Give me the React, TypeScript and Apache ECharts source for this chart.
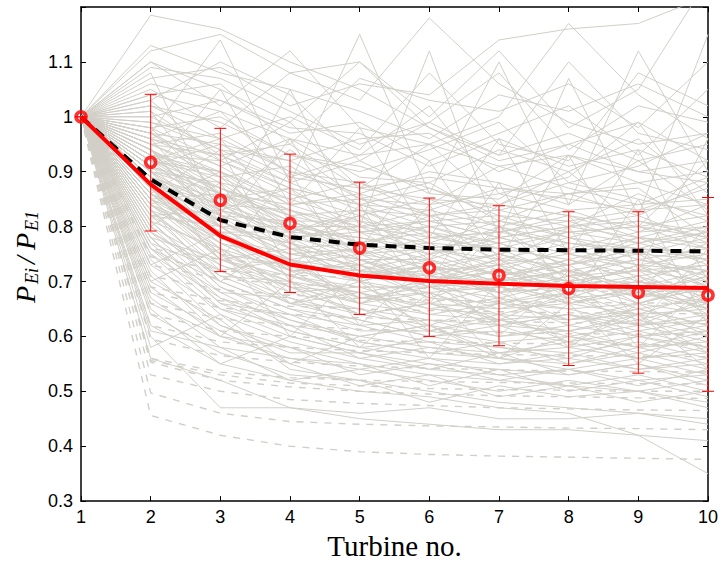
import React, { useEffect, useRef } from "react";
import * as echarts from "echarts";

const turbines = [1, 2, 3, 4, 5, 6, 7, 8, 9, 10];
const yTicks = [0.3, 0.4, 0.5, 0.6, 0.7, 0.8, 0.9, 1.0, 1.1];

// mean of all cases (red circles)
const meanValues = [1.0, 0.917, 0.848, 0.806, 0.761, 0.725, 0.711, 0.687, 0.68, 0.675];
// error bar limits
const errLow = [1.0, 0.792, 0.718, 0.68, 0.64, 0.6, 0.583, 0.547, 0.533, 0.5];
const errHigh = [1.0, 1.041, 0.979, 0.932, 0.881, 0.852, 0.838, 0.827, 0.827, 0.853];
// red solid fit
const redFit = [1.0, 0.877, 0.783, 0.731, 0.711, 0.701, 0.696, 0.692, 0.69, 0.688];
// black dashed fit
const blackFit = [1.0, 0.886, 0.812, 0.781, 0.767, 0.761, 0.758, 0.757, 0.756, 0.755];

// individual cases (solid grey)
const solidRuns: number[][] = [
  [1, 1.185, 1.16, 1.1, 1.05, 0.98, 0.92, 0.95, 0.9, 0.88],
  [1, 1.12, 1.15, 1.08, 1.03, 1.18, 1.06, 0.99, 0.95, 0.97],
  [1, 1.1, 1.02, 1.12, 0.98, 0.95, 1.0, 1.17, 1.04, 0.96],
  [1, 1.07, 1.09, 1.02, 1.06, 1.04, 1.14, 1.16, 1.17, 1.22],
  [1, 1.05, 0.98, 1.08, 1.1, 1.0, 1.12, 0.98, 1.05, 1.25],
  [1, 1.04, 1.06, 0.95, 1.07, 1.03, 1.01, 1.06, 0.98, 1.1],
  [1, 1.02, 0.96, 1.0, 0.94, 1.08, 0.95, 0.92, 1.08, 1.02],
  [1, 1.0, 1.03, 0.97, 0.99, 0.92, 0.97, 1.02, 0.93, 1.05],
  [1, 0.99, 0.94, 0.92, 0.96, 0.97, 0.9, 0.95, 0.99, 0.92],
  [1, 0.98, 1.0, 0.93, 0.9, 0.94, 0.99, 0.88, 0.91, 0.97],
  [1, 0.97, 0.91, 0.96, 0.89, 0.88, 0.94, 0.9, 0.96, 0.86],
  [1, 0.96, 0.93, 0.88, 0.92, 0.86, 0.85, 0.93, 0.88, 0.9],
  [1, 0.95, 0.97, 0.9, 0.86, 0.9, 0.88, 0.84, 0.92, 0.83],
  [1, 0.95, 0.89, 0.91, 0.84, 0.83, 0.87, 0.86, 0.82, 0.88],
  [1, 0.94, 0.88, 0.85, 0.88, 0.82, 0.83, 0.8, 0.86, 0.81],
  [1, 0.93, 0.92, 0.86, 0.82, 0.85, 0.8, 0.83, 0.79, 0.84],
  [1, 0.93, 0.86, 0.84, 0.8, 0.81, 0.82, 0.78, 0.81, 0.79],
  [1, 0.92, 0.9, 0.82, 0.83, 0.78, 0.79, 0.81, 0.77, 0.8],
  [1, 0.92, 0.85, 0.87, 0.79, 0.8, 0.76, 0.79, 0.8, 0.76],
  [1, 0.91, 0.87, 0.81, 0.81, 0.76, 0.78, 0.75, 0.78, 0.77],
  [1, 0.91, 0.84, 0.83, 0.77, 0.79, 0.74, 0.77, 0.75, 0.78],
  [1, 0.9, 0.83, 0.79, 0.78, 0.75, 0.77, 0.73, 0.76, 0.74],
  [1, 0.9, 0.88, 0.8, 0.76, 0.77, 0.72, 0.76, 0.73, 0.75],
  [1, 0.89, 0.82, 0.78, 0.75, 0.73, 0.75, 0.72, 0.74, 0.71],
  [1, 0.89, 0.8, 0.8, 0.74, 0.74, 0.71, 0.74, 0.71, 0.73],
  [1, 0.88, 0.81, 0.76, 0.77, 0.72, 0.73, 0.7, 0.72, 0.7],
  [1, 0.88, 0.79, 0.77, 0.72, 0.71, 0.7, 0.72, 0.69, 0.72],
  [1, 0.87, 0.78, 0.75, 0.73, 0.7, 0.72, 0.68, 0.7, 0.68],
  [1, 0.87, 0.8, 0.73, 0.71, 0.72, 0.68, 0.71, 0.67, 0.69],
  [1, 0.86, 0.77, 0.74, 0.7, 0.68, 0.69, 0.67, 0.68, 0.66],
  [1, 0.86, 0.76, 0.72, 0.72, 0.67, 0.66, 0.69, 0.65, 0.67],
  [1, 0.85, 0.78, 0.71, 0.69, 0.69, 0.67, 0.65, 0.66, 0.64],
  [1, 0.85, 0.75, 0.73, 0.67, 0.66, 0.65, 0.66, 0.64, 0.65],
  [1, 0.84, 0.74, 0.7, 0.68, 0.65, 0.64, 0.63, 0.65, 0.62],
  [1, 0.84, 0.76, 0.69, 0.66, 0.64, 0.63, 0.64, 0.62, 0.63],
  [1, 0.83, 0.73, 0.68, 0.65, 0.63, 0.62, 0.61, 0.63, 0.6],
  [1, 0.83, 0.72, 0.67, 0.64, 0.62, 0.6, 0.62, 0.6, 0.61],
  [1, 0.82, 0.71, 0.66, 0.63, 0.6, 0.61, 0.59, 0.61, 0.58],
  [1, 0.81, 0.7, 0.65, 0.61, 0.61, 0.59, 0.6, 0.58, 0.59],
  [1, 0.8, 0.69, 0.64, 0.62, 0.59, 0.58, 0.57, 0.59, 0.56],
  [1, 0.79, 0.68, 0.62, 0.6, 0.58, 0.57, 0.58, 0.56, 0.57],
  [1, 0.78, 0.67, 0.63, 0.59, 0.57, 0.56, 0.55, 0.57, 0.54],
  [1, 0.77, 0.66, 0.61, 0.58, 0.56, 0.55, 0.56, 0.54, 0.55],
  [1, 0.76, 0.65, 0.6, 0.57, 0.55, 0.54, 0.53, 0.55, 0.52],
  [1, 0.75, 0.64, 0.59, 0.56, 0.54, 0.53, 0.54, 0.52, 0.53],
  [1, 0.74, 0.62, 0.58, 0.55, 0.53, 0.52, 0.51, 0.53, 0.5],
  [1, 0.72, 0.6, 0.56, 0.54, 0.52, 0.5, 0.52, 0.5, 0.48],
  [1, 0.7, 0.63, 0.54, 0.52, 0.5, 0.48, 0.47, 0.46, 0.45],
  [1, 0.65, 0.55, 0.52, 0.5, 0.49, 0.47, 0.46, 0.42, 0.35],
  [1, 0.6, 0.47, 0.47, 0.45, 0.44, 0.43, 0.43, 0.42, 0.41],
  [1, 0.61, 0.58, 0.52, 0.54, 0.56, 0.53, 0.51, 0.5, 0.52],
  [1, 0.62, 0.55, 0.6, 0.57, 0.6, 0.58, 0.56, 0.6, 0.58],
  [1, 0.58, 0.64, 0.55, 0.6, 0.62, 0.56, 0.6, 0.57, 0.6],
  [1, 0.56, 0.52, 0.47, 0.46, 0.47, 0.45, 0.45, 0.46, 0.44],
  [1, 0.97, 1.14, 0.88, 1.15, 0.86, 1.1, 0.84, 1.12, 0.9],
  [1, 1.08, 0.82, 1.05, 0.8, 1.12, 0.78, 1.07, 0.82, 1.15],
  [1, 0.9, 1.05, 0.84, 0.98, 0.78, 0.96, 0.75, 0.94, 0.7],
  [1, 0.94, 0.8, 0.96, 0.76, 0.92, 0.74, 0.93, 0.72, 0.96],
  [1, 0.86, 0.94, 0.72, 0.86, 0.7, 0.88, 0.66, 0.85, 0.62],
  [1, 0.8, 0.88, 0.7, 0.84, 0.66, 0.8, 0.7, 0.76, 0.66],
  [1, 0.76, 0.7, 0.78, 0.62, 0.74, 0.6, 0.72, 0.58, 0.7],
  [1, 0.7, 0.76, 0.6, 0.72, 0.56, 0.7, 0.58, 0.66, 0.6],
  [1, 0.66, 0.6, 0.7, 0.58, 0.68, 0.56, 0.66, 0.55, 0.64],
  [1, 0.88, 0.74, 0.9, 0.7, 0.84, 0.66, 0.8, 0.62, 0.76],
  [1, 1.03, 0.92, 0.99, 0.87, 0.95, 0.84, 0.9, 0.8, 0.92],
  [1, 0.96, 1.01, 0.89, 0.93, 1.02, 0.86, 0.89, 0.99, 0.82],
  [1, 0.91, 0.95, 0.92, 0.85, 0.84, 0.91, 0.87, 0.84, 0.89],
  [1, 0.84, 0.9, 0.77, 0.82, 0.74, 0.84, 0.82, 0.7, 0.74],
  [1, 0.78, 0.74, 0.76, 0.7, 0.73, 0.68, 0.69, 0.73, 0.66],
  [1, 0.73, 0.79, 0.66, 0.68, 0.62, 0.66, 0.63, 0.64, 0.57],
  [1, 1.1, 1.05, 0.99, 1.1, 0.98, 0.93, 1.1, 0.97, 0.94],
  [1, 1.03, 1.1, 1.04, 0.92, 0.99, 1.08, 0.94, 1.02, 0.99],
  [1, 0.82, 0.83, 0.87, 0.74, 0.69, 0.8, 0.72, 0.68, 0.8],
  [1, 0.87, 0.75, 0.66, 0.7, 0.61, 0.64, 0.59, 0.64, 0.54],
  [1, 0.79, 0.72, 0.74, 0.66, 0.7, 0.62, 0.64, 0.6, 0.62],
  [1, 0.94, 0.84, 0.78, 0.8, 0.75, 0.8, 0.77, 0.75, 0.69],
  [1, 0.92, 0.96, 0.81, 0.76, 0.82, 0.73, 0.8, 0.78, 0.73],
  [1, 0.85, 0.86, 0.76, 0.74, 0.7, 0.74, 0.67, 0.71, 0.64],
  [1, 0.89, 0.78, 0.72, 0.66, 0.68, 0.63, 0.68, 0.62, 0.67],
  [1, 1.01, 0.85, 0.94, 0.85, 0.88, 0.81, 0.86, 0.87, 0.78],
  [1, 0.93, 0.83, 0.76, 0.71, 0.74, 0.69, 0.72, 0.66, 0.7],
  [1, 0.9, 0.81, 0.74, 0.76, 0.7, 0.73, 0.66, 0.69, 0.63],
  [1, 0.88, 0.84, 0.77, 0.7, 0.73, 0.67, 0.7, 0.72, 0.65],
  [1, 0.86, 0.79, 0.79, 0.73, 0.67, 0.71, 0.73, 0.67, 0.71],
  [1, 0.84, 0.77, 0.71, 0.74, 0.69, 0.65, 0.68, 0.7, 0.66],
  [1, 0.82, 0.75, 0.7, 0.66, 0.71, 0.68, 0.63, 0.66, 0.69],
  [1, 0.8, 0.73, 0.69, 0.68, 0.64, 0.66, 0.65, 0.62, 0.64],
  [1, 0.94, 0.86, 0.8, 0.78, 0.76, 0.73, 0.75, 0.73, 0.72],
  [1, 0.97, 0.89, 0.83, 0.79, 0.77, 0.76, 0.74, 0.77, 0.74],
  [1, 0.95, 0.9, 0.85, 0.81, 0.79, 0.75, 0.78, 0.74, 0.76],
  [1, 0.92, 0.87, 0.82, 0.75, 0.78, 0.76, 0.71, 0.74, 0.72],
  [1, 0.89, 0.85, 0.78, 0.79, 0.73, 0.7, 0.74, 0.7, 0.68],
  [1, 0.87, 0.82, 0.74, 0.72, 0.75, 0.71, 0.69, 0.73, 0.69],
  [1, 0.91, 0.8, 0.77, 0.74, 0.71, 0.74, 0.7, 0.68, 0.71],
  [1, 0.85, 0.8, 0.72, 0.7, 0.66, 0.69, 0.66, 0.68, 0.65],
  [1, 0.83, 0.78, 0.74, 0.67, 0.68, 0.64, 0.67, 0.63, 0.66],
  [1, 0.81, 0.76, 0.68, 0.69, 0.65, 0.67, 0.62, 0.65, 0.62],
  [1, 0.79, 0.71, 0.7, 0.64, 0.66, 0.62, 0.64, 0.61, 0.63],
  [1, 0.77, 0.72, 0.66, 0.65, 0.61, 0.63, 0.6, 0.62, 0.59],
  [1, 0.76, 0.68, 0.67, 0.62, 0.63, 0.6, 0.61, 0.58, 0.61],
  [1, 0.98, 0.92, 0.87, 0.84, 0.8, 0.81, 0.79, 0.8, 0.78],
  [1, 1.0, 0.94, 0.88, 0.83, 0.82, 0.79, 0.82, 0.78, 0.81],
  [1, 0.96, 0.91, 0.84, 0.85, 0.81, 0.78, 0.8, 0.82, 0.77],
  [1, 0.94, 0.87, 0.83, 0.8, 0.83, 0.8, 0.76, 0.79, 0.8],
  [1, 0.92, 0.89, 0.79, 0.82, 0.77, 0.81, 0.78, 0.76, 0.75],
  [1, 0.9, 0.86, 0.81, 0.77, 0.8, 0.77, 0.79, 0.77, 0.79],
  [1, 0.88, 0.83, 0.8, 0.75, 0.76, 0.74, 0.73, 0.75, 0.74],
  [1, 0.86, 0.81, 0.75, 0.76, 0.72, 0.75, 0.71, 0.72, 0.73],
  [1, 0.84, 0.79, 0.73, 0.71, 0.73, 0.7, 0.72, 0.69, 0.68],
  [1, 0.82, 0.8, 0.72, 0.73, 0.69, 0.72, 0.69, 0.71, 0.67],
  [1, 0.99, 0.96, 0.9, 0.88, 0.84, 0.86, 0.83, 0.84, 0.85],
  [1, 1.02, 0.99, 0.93, 0.91, 0.87, 0.83, 0.86, 0.88, 0.84],
  [1, 1.01, 0.93, 0.95, 0.87, 0.89, 0.87, 0.85, 0.83, 0.87],
  [1, 0.97, 0.95, 0.89, 0.87, 0.85, 0.84, 0.88, 0.85, 0.82],
  [1, 0.95, 0.93, 0.87, 0.84, 0.87, 0.82, 0.81, 0.83, 0.84],
  [1, 0.93, 0.9, 0.84, 0.86, 0.82, 0.84, 0.82, 0.8, 0.82],
  [1, 0.91, 0.86, 0.82, 0.79, 0.81, 0.78, 0.8, 0.81, 0.78],
  [1, 0.89, 0.84, 0.8, 0.8, 0.78, 0.79, 0.77, 0.76, 0.79],
  [1, 0.87, 0.77, 0.71, 0.68, 0.7, 0.66, 0.68, 0.64, 0.68],
  [1, 0.85, 0.74, 0.69, 0.64, 0.66, 0.63, 0.61, 0.64, 0.61],
  [1, 0.83, 0.7, 0.65, 0.63, 0.6, 0.62, 0.58, 0.6, 0.57],
  [1, 0.81, 0.69, 0.63, 0.6, 0.62, 0.57, 0.59, 0.56, 0.58],
  [1, 0.78, 0.66, 0.64, 0.59, 0.57, 0.59, 0.55, 0.58, 0.55],
  [1, 0.75, 0.67, 0.61, 0.58, 0.59, 0.55, 0.57, 0.54, 0.56],
  [1, 0.73, 0.65, 0.62, 0.56, 0.58, 0.56, 0.54, 0.56, 0.53],
  [1, 0.71, 0.62, 0.57, 0.57, 0.54, 0.57, 0.53, 0.55, 0.51],
  [1, 0.69, 0.6, 0.58, 0.53, 0.55, 0.52, 0.54, 0.51, 0.54],
  [1, 0.67, 0.58, 0.56, 0.55, 0.51, 0.54, 0.5, 0.52, 0.49],
  [1, 0.68, 0.61, 0.55, 0.51, 0.53, 0.49, 0.51, 0.48, 0.5],
  [1, 0.64, 0.57, 0.53, 0.52, 0.48, 0.51, 0.49, 0.5, 0.47],
  [1, 1.04, 1.01, 0.96, 0.93, 0.95, 0.91, 0.93, 0.9, 0.92],
  [1, 1.06, 1.03, 0.98, 0.97, 0.91, 0.96, 0.91, 0.94, 0.89],
  [1, 1.09, 1.07, 1.01, 0.95, 0.99, 0.93, 0.97, 0.92, 0.95],
  [1, 1.13, 1.08, 1.05, 1.01, 0.96, 1.04, 1.01, 1.06, 1.0],
  [1, 0.98, 0.86, 0.79, 0.83, 0.79, 0.77, 0.73, 0.78, 0.76],
  [1, 0.96, 0.82, 0.81, 0.77, 0.74, 0.78, 0.75, 0.72, 0.77],
  [1, 0.94, 0.81, 0.75, 0.73, 0.76, 0.71, 0.73, 0.76, 0.7],
  [1, 0.9, 0.78, 0.73, 0.75, 0.7, 0.68, 0.71, 0.67, 0.72],
  [1, 0.87, 0.74, 0.71, 0.67, 0.69, 0.7, 0.66, 0.69, 0.65],
  [1, 0.92, 0.82, 0.78, 0.72, 0.7, 0.72, 0.7, 0.66, 0.69],
];

// model cases (dashed grey)
const dashedRuns: number[][] = [
  [1, 0.456, 0.42, 0.4, 0.39, 0.385, 0.382, 0.38, 0.378, 0.376],
  [1, 0.497, 0.46, 0.445, 0.44, 0.437, 0.435, 0.433, 0.432, 0.43],
  [1, 0.53, 0.5, 0.485, 0.478, 0.474, 0.47, 0.468, 0.466, 0.465],
  [1, 0.553, 0.52, 0.508, 0.5, 0.495, 0.492, 0.49, 0.488, 0.487],
  [1, 0.556, 0.53, 0.515, 0.51, 0.505, 0.503, 0.502, 0.5, 0.5],
  [1, 0.56, 0.535, 0.525, 0.52, 0.518, 0.516, 0.515, 0.514, 0.513],
  [1, 0.595, 0.565, 0.553, 0.546, 0.542, 0.539, 0.537, 0.536, 0.535],
  [1, 0.62, 0.59, 0.58, 0.574, 0.57, 0.567, 0.565, 0.564, 0.563],
  [1, 0.64, 0.61, 0.6, 0.593, 0.59, 0.588, 0.586, 0.585, 0.584],
  [1, 0.66, 0.632, 0.62, 0.613, 0.61, 0.607, 0.605, 0.604, 0.603],
  [1, 0.68, 0.652, 0.64, 0.634, 0.63, 0.627, 0.625, 0.624, 0.623],
  [1, 0.69, 0.665, 0.655, 0.65, 0.647, 0.645, 0.643, 0.642, 0.641],
  [1, 0.71, 0.685, 0.675, 0.669, 0.666, 0.664, 0.662, 0.661, 0.66],
  [1, 0.73, 0.705, 0.695, 0.69, 0.687, 0.685, 0.683, 0.682, 0.681],
  [1, 0.745, 0.72, 0.712, 0.707, 0.704, 0.702, 0.7, 0.699, 0.698],
  [1, 0.76, 0.74, 0.73, 0.726, 0.723, 0.721, 0.72, 0.719, 0.718],
];

const GREY = "#d1cfc7";
const RED = "#ff0000";
const SANS = "'Liberation Sans', Arial, sans-serif";
const SERIF = "'Liberation Serif', 'Times New Roman', serif";

const toPairs = (vals: number[]) => vals.map((v, i) => [turbines[i], v]);

export default function App() {
  const ref = useRef<HTMLDivElement>(null);

  useEffect(() => {
    if (!ref.current) return;
    const chart = echarts.init(ref.current, null, { renderer: "svg" });

    const series: any[] = [];
    solidRuns.forEach((run, k) => {
      series.push({
        type: "line",
        name: "case" + k,
        data: toPairs(run),
        symbol: "none",
        silent: true,
        z: 1,
        lineStyle: { color: GREY, width: 1 },
      });
    });
    dashedRuns.forEach((run, k) => {
      series.push({
        type: "line",
        name: "model" + k,
        data: toPairs(run),
        symbol: "none",
        silent: true,
        z: 1,
        lineStyle: { color: GREY, width: 1.4, type: [7, 7] },
      });
    });
    series.push({
      type: "line",
      name: "dashed fit",
      data: toPairs(blackFit),
      symbol: "none",
      silent: true,
      z: 3,
      lineStyle: { color: "#000000", width: 4, type: [11, 8], cap: "butt" },
    });
    series.push({
      type: "line",
      name: "fit",
      data: toPairs(redFit),
      symbol: "none",
      silent: true,
      z: 4,
      lineStyle: { color: RED, width: 4 },
    });
    series.push({
      type: "custom",
      name: "error",
      z: 5,
      silent: true,
      clip: false,
      data: turbines.map((t, i) => [t, errLow[i], errHigh[i]]),
      encode: { x: 0, y: [1, 2] },
      renderItem: (params: any, api: any) => {
        const x = api.value(0);
        const lo = api.coord([x, api.value(1)]);
        const hi = api.coord([x, api.value(2)]);
        const w = 6;
        const st = { stroke: RED, lineWidth: 1 };
        return {
          type: "group",
          children: [
            { type: "line", shape: { x1: lo[0], y1: lo[1], x2: hi[0], y2: hi[1] }, style: st },
            { type: "line", shape: { x1: lo[0] - w, y1: lo[1], x2: lo[0] + w, y2: lo[1] }, style: st },
            { type: "line", shape: { x1: hi[0] - w, y1: hi[1], x2: hi[0] + w, y2: hi[1] }, style: st },
          ],
        };
      },
    });
    series.push({
      type: "scatter",
      name: "mean",
      data: toPairs(meanValues),
      symbol: "circle",
      symbolSize: 10,
      z: 6,
      silent: true,
      clip: false,
      itemStyle: { color: "rgba(255,255,255,0)", borderColor: RED, borderWidth: 3.6 },
    });

    const axisLine = { show: true, lineStyle: { color: "#000", width: 1.5 } };
    const tick = { show: true, inside: true, length: 5, lineStyle: { color: "#000", width: 1 } };

    chart.setOption({
      animation: false,
      backgroundColor: "#ffffff",
      grid: { left: 81, right: 13, top: 7, bottom: 62, containLabel: false },
      xAxis: [
        {
          type: "value",
          position: "bottom",
          min: 1,
          max: 10,
          interval: 1,
          axisLine,
          axisTick: tick,
          splitLine: { show: false },
          axisLabel: { color: "#000", fontFamily: SANS, fontSize: 18, margin: 7 },
          name: "Turbine no.",
          nameLocation: "middle",
          nameGap: 41,
          nameTextStyle: { color: "#000", fontFamily: SERIF, fontSize: 29, verticalAlign: "middle" },
        },
        {
          type: "value",
          position: "top",
          min: 1,
          max: 10,
          interval: 1,
          axisLine,
          axisTick: tick,
          axisLabel: { show: false },
          splitLine: { show: false },
        },
      ],
      yAxis: [
        {
          type: "value",
          position: "left",
          min: 0.3,
          max: 1.2,
          interval: 0.1,
          axisLine,
          axisTick: tick,
          splitLine: { show: false },
          axisLabel: {
            color: "#000",
            fontFamily: SANS,
            fontSize: 18,
            margin: 8,
            formatter: (v: number) => {
              const r = Math.round(v * 10) / 10;
              const hit = yTicks.find((t) => Math.abs(t - r) < 1e-6);
              return hit === undefined ? "" : String(hit);
            },
          },
        },
        {
          type: "value",
          position: "right",
          min: 0.3,
          max: 1.2,
          interval: 0.1,
          axisLine,
          axisTick: tick,
          axisLabel: { show: false },
          splitLine: { show: false },
        },
      ],
      graphic: [
        {
          type: "group",
          x: 25,
          y: 303,
          rotation: Math.PI / 2,
          silent: true,
          children: [
            { type: "text", x: 0, y: 0, style: { text: "P", font: `italic 28px ${SERIF}`, fill: "#000", verticalAlign: "middle", align: "left" } },
            { type: "text", x: 19, y: 7, style: { text: "Ei", font: `italic 18px ${SERIF}`, fill: "#000", verticalAlign: "middle", align: "left" } },
            { type: "text", x: 39, y: 0, style: { text: "/", font: `italic 28px ${SERIF}`, fill: "#000", verticalAlign: "middle", align: "left" } },
            { type: "text", x: 53, y: 0, style: { text: "P", font: `italic 28px ${SERIF}`, fill: "#000", verticalAlign: "middle", align: "left" } },
            { type: "text", x: 72, y: 7, style: { text: "E1", font: `italic 18px ${SERIF}`, fill: "#000", verticalAlign: "middle", align: "left" } },
          ],
        },
      ],
      series,
    });

    return () => chart.dispose();
  }, []);

  return (
    <div
      ref={ref}
      style={{ position: "absolute", left: 0, top: 0, width: 721, height: 565 }}
    />
  );
}
